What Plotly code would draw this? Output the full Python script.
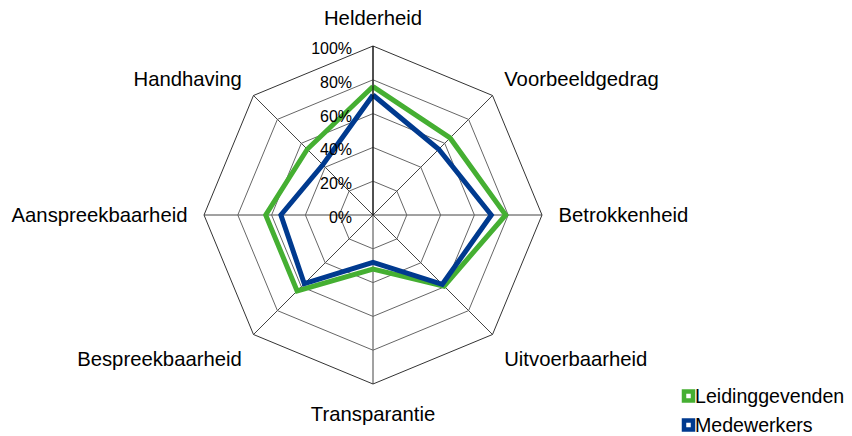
import plotly.graph_objects as go

categories = ["Helderheid", "Voorbeeldgedrag", "Betrokkenheid", "Uitvoerbaarheid",
              "Transparantie", "Bespreekbaarheid", "Aanspreekbaarheid", "Handhaving"]
series_names = ["Leidinggevenden", "Medewerkers"]
leidinggevenden = [0.76, 0.645, 0.785, 0.595, 0.32, 0.635, 0.635, 0.55]
medewerkers = [0.71, 0.55, 0.70, 0.58, 0.28, 0.575, 0.545, 0.42]
radial_ticks = [0, 0.2, 0.4, 0.6, 0.8, 1.0]
radial_ticktext = ["0%", "20%", "40%", "60%", "80%", "100%"]

GREEN = "#45AF32"
BLUE = "#003A8F"
colors = [GREEN, BLUE]
# page body has an 8px margin, so the figure is sized to the remaining viewport
W, H = 844, 428

def closed(v):
    return list(v) + [v[0]]

cats_closed = closed(categories)

fig = go.Figure()
for name, vals, col in zip(series_names, [leidinggevenden, medewerkers], colors):
    fig.add_trace(go.Scatterpolar(r=closed(vals), theta=cats_closed, mode="lines", name=name,
                                  line=dict(color=col, width=5), showlegend=False))

# legend drawn as shapes + text (Excel-like placement)
legend_y = [388, 417]
for name, col, yy in zip(series_names, colors, legend_y):
    fig.add_shape(type="rect", xref="paper", yref="paper",
                  x0=676/W, x1=685/W, y0=1 - (yy + 4.5)/H, y1=1 - (yy - 4.5)/H,
                  line=dict(color=col, width=4.5), fillcolor="white")
    fig.add_annotation(text=name, xref="paper", yref="paper", x=686/W, y=1 - yy/H,
                       xanchor="left", yanchor="middle", showarrow=False, borderpad=0,
                       font=dict(size=19.6, color="black"))

fig.update_layout(
    width=W, height=H,
    margin=dict(l=0, r=0, t=0, b=0),
    paper_bgcolor="white",
    showlegend=False,
    font=dict(family="Liberation Sans, Arial, sans-serif", color="black"),
    polar=dict(
        domain=dict(x=[196/W, 534/W], y=[52/H, 390/H]),
        bgcolor="white",
        gridshape="linear",
        radialaxis=dict(
            range=[0, 1], tickvals=radial_ticks, ticktext=radial_ticktext,
            angle=90, side="counterclockwise", showline=True, linecolor="black", linewidth=1,
            gridcolor="#666666", gridwidth=1, tickfont=dict(size=16),
            ticks="outside", ticklen=6, tickcolor="rgba(0,0,0,0)",
        ),
        angularaxis=dict(
            direction="clockwise", rotation=90, showline=True, linecolor="#333333", linewidth=1,
            gridcolor="#444444", gridwidth=1, tickfont=dict(size=20.3),
            ticks="outside", ticklen=12, tickcolor="rgba(0,0,0,0)",
        ),
    ),
)

fig.write_html("out.html")
